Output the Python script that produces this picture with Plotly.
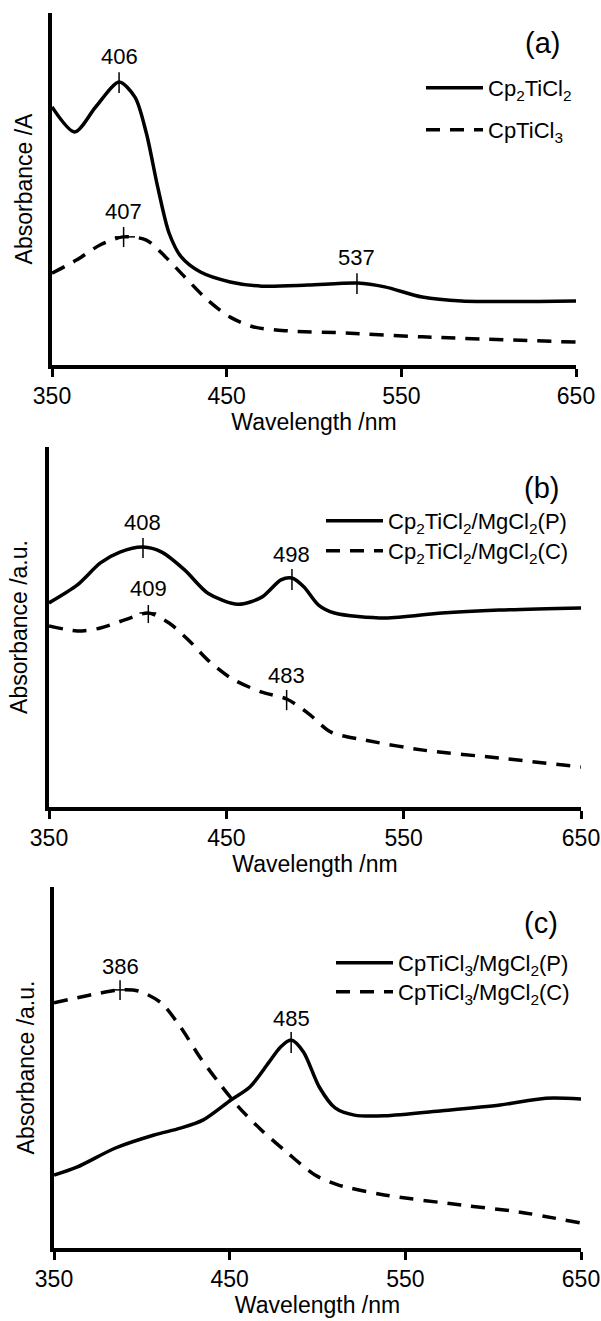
import plotly.graph_objects as go

# ---------------- data ----------------
# Panel (a)
a_wl_solid = [350, 363, 375, 388.4, 397.5, 404, 410.5, 417, 424, 435, 452, 470, 496.5, 525, 540.5, 562, 584.5, 650]
a_abs_solid = [0.733, 0.662, 0.733, 0.804, 0.761, 0.659, 0.506, 0.375, 0.307, 0.264, 0.236, 0.224, 0.227, 0.233, 0.222, 0.193, 0.182, 0.182]
a_wl_dash = [350, 364, 377.5, 390.7, 404, 415, 426, 439, 452, 465.5, 485, 518, 562, 650]
a_abs_dash = [0.261, 0.298, 0.341, 0.364, 0.355, 0.307, 0.25, 0.185, 0.136, 0.108, 0.097, 0.091, 0.080, 0.065]
a_names = ["Cp<sub>2</sub>TiCl<sub>2</sub>", "CpTiCl<sub>3</sub>"]
a_peak_x = [388.4, 391.0, 524.6]
a_peak_lo = [0.773, 0.335, 0.202]
a_peak_hi = [0.832, 0.392, 0.261]
a_peak_text = ["406", "407", "537"]
a_peak_label_y = [0.875, 0.435, 0.304]
a_cross_x = [386.0, 397.5]
a_cross_y = 0.364

# Panel (b)
b_wl_solid = [350, 366, 379, 390, 403, 413.6, 426.6, 439.6, 456.6, 470, 480.8, 487, 493.8, 502, 511, 539.5, 571.6, 604, 650]
b_abs_solid = [0.567, 0.617, 0.678, 0.708, 0.722, 0.708, 0.658, 0.594, 0.563, 0.583, 0.631, 0.636, 0.611, 0.561, 0.539, 0.525, 0.539, 0.547, 0.553]
b_wl_dash = [350, 366, 379, 394, 406, 417.7, 428.6, 439.6, 452.6, 470, 484, 496, 509, 528, 561, 604, 650]
b_abs_dash = [0.503, 0.489, 0.497, 0.522, 0.539, 0.511, 0.464, 0.408, 0.358, 0.319, 0.300, 0.261, 0.208, 0.186, 0.158, 0.136, 0.111]
b_names = ["Cp<sub>2</sub>TiCl<sub>2</sub>/MgCl<sub>2</sub>(P)", "Cp<sub>2</sub>TiCl<sub>2</sub>/MgCl<sub>2</sub>(C)"]
b_peak_x = [403.0, 487.0, 406.0, 484.0]
b_peak_lo = [0.692, 0.603, 0.511, 0.269]
b_peak_hi = [0.747, 0.661, 0.561, 0.325]
b_peak_text = ["408", "498", "409", "483"]
b_peak_label_y = [0.789, 0.700, 0.608, 0.364]
b_cross_x = [401.0, 410.5]
b_cross_y = 0.539

# Panel (c)
c_wl_solid = [350, 363, 385, 407, 422, 435, 450.7, 461.5, 472, 479, 485, 492, 501, 510, 521, 538, 571, 604, 630, 650]
c_abs_solid = [0.202, 0.224, 0.277, 0.313, 0.332, 0.355, 0.410, 0.446, 0.512, 0.557, 0.576, 0.543, 0.446, 0.388, 0.368, 0.366, 0.380, 0.396, 0.415, 0.413]
c_wl_dash = [350, 363, 376, 387.6, 398, 411, 422, 433, 444, 455, 468, 483, 498.6, 511.6, 538, 582, 614.6, 650]
c_abs_dash = [0.679, 0.693, 0.706, 0.715, 0.712, 0.679, 0.612, 0.529, 0.457, 0.391, 0.327, 0.263, 0.202, 0.175, 0.147, 0.119, 0.100, 0.069]
c_names = ["CpTiCl<sub>3</sub>/MgCl<sub>2</sub>(P)", "CpTiCl<sub>3</sub>/MgCl<sub>2</sub>(C)"]
c_peak_x = [387.6, 485.0]
c_peak_lo = [0.687, 0.540]
c_peak_hi = [0.742, 0.598]
c_peak_text = ["386", "485"]
c_peak_label_y = [0.781, 0.637]
c_cross_x = [383.0, 393.0]
c_cross_y = 0.715

x_ticks = [350, 450, 550, 650]
x_title = "Wavelength /nm"
y_titles = ["Absorbance /A", "Absorbance /a.u.", "Absorbance /a.u."]
panel_tags = ["(a)", "(b)", "(c)"]

# ---------------- layout geometry (pixels) ----------------
W, H = 601, 1321
FONT = "Liberation Sans, Arial, Helvetica, sans-serif"
LW = 3.5
DASH = "14px,10px"

panels = [
    dict(tag="", xd=(52, 576), yd=(13, 365), sol=(a_wl_solid, a_abs_solid), das=(a_wl_dash, a_abs_dash),
         names=a_names, px=a_peak_x, plo=a_peak_lo, phi=a_peak_hi, pt=a_peak_text, ply=a_peak_label_y,
         cx=a_cross_x, cy=a_cross_y, legx=421, legrows=(87, 129), tagpos=(542, 43), ytstand=10),
    dict(tag="2", xd=(49, 581), yd=(447, 807), sol=(b_wl_solid, b_abs_solid), das=(b_wl_dash, b_abs_dash),
         names=b_names, px=b_peak_x, plo=b_peak_lo, phi=b_peak_hi, pt=b_peak_text, ply=b_peak_label_y,
         cx=b_cross_x, cy=b_cross_y, legx=321, legrows=(520, 550), tagpos=(541, 488), ytstand=12),
    dict(tag="3", xd=(54, 581), yd=(887, 1248), sol=(c_wl_solid, c_abs_solid), das=(c_wl_dash, c_abs_dash),
         names=c_names, px=c_peak_x, plo=c_peak_lo, phi=c_peak_hi, pt=c_peak_text, ply=c_peak_label_y,
         cx=c_cross_x, cy=c_cross_y, legx=331, legrows=(962, 991), tagpos=(541, 923), ytstand=10),
]

LEG_TOP_OFFSET = 20  # px from legend box top to the item's line

fig = go.Figure()
annotations = []
layout = dict(
    width=W, height=H, margin=dict(l=0, r=0, t=0, b=0),
    paper_bgcolor="white", plot_bgcolor="white",
    font=dict(family=FONT, size=22, color="black"),
    template="none", showlegend=True,
)

leg_index = 0
for i, p in enumerate(panels):
    xa = "x" + p["tag"]
    ya = "y" + p["tag"]
    series = [(p["sol"], "solid"), (p["das"], DASH)]
    for j, (xy, dash) in enumerate(series):
        leg_index += 1
        legname = "legend" if leg_index == 1 else "legend" + str(leg_index)
        fig.add_trace(go.Scatter(x=xy[0], y=xy[1], mode="lines", name=p["names"][j],
                                 line=dict(color="black", width=LW, dash=dash, shape="spline", smoothing=0.8),
                                 xaxis=xa, yaxis=ya, legend=legname))
        layout[legname] = dict(x=p["legx"] / W, y=1 - (p["legrows"][j] - LEG_TOP_OFFSET) / H,
                               xanchor="left", yanchor="top", bgcolor="rgba(0,0,0,0)", borderwidth=0,
                               font=dict(size=22, family=FONT), itemwidth=57)
    # peak tick marks and labels
    for k in range(len(p["px"])):
        fig.add_trace(go.Scatter(x=[p["px"][k], p["px"][k]], y=[p["plo"][k], p["phi"][k]], mode="lines",
                                 line=dict(color="black", width=1.5), showlegend=False, hoverinfo="skip",
                                 xaxis=xa, yaxis=ya))
        annotations.append(dict(x=p["px"][k], y=p["ply"][k], xref=xa, yref=ya, text=p["pt"][k],
                                showarrow=False, font=dict(size=22, family=FONT), xanchor="center", yanchor="middle"))
    fig.add_trace(go.Scatter(x=p["cx"], y=[p["cy"], p["cy"]], mode="lines",
                             line=dict(color="black", width=1.5), showlegend=False, hoverinfo="skip",
                             xaxis=xa, yaxis=ya))
    # panel tag
    annotations.append(dict(x=p["tagpos"][0] / W, y=1 - p["tagpos"][1] / H, xref="paper", yref="paper",
                            text=panel_tags[i], showarrow=False, font=dict(size=29, family=FONT),
                            xanchor="center", yanchor="middle"))
    layout["xaxis" + p["tag"]] = dict(domain=[p["xd"][0] / W, p["xd"][1] / W], anchor=ya, range=[350, 650],
                                      tickvals=x_ticks, ticks="outside", ticklen=8, tickwidth=2.5, tickcolor="black",
                                      showline=True, linewidth=LW, linecolor="black", showgrid=False, zeroline=False,
                                      tickfont=dict(size=23, family=FONT), ticklabelstandoff=0,
                                      title=dict(text=x_title, font=dict(size=23, family=FONT), standoff=6),
                                      automargin=False)
    layout["yaxis" + p["tag"]] = dict(domain=[1 - p["yd"][1] / H, 1 - p["yd"][0] / H], anchor=xa, range=[0, 1],
                                      showticklabels=False, ticks="", showline=True, linewidth=LW, linecolor="black",
                                      showgrid=False, zeroline=False,
                                      title=dict(text=y_titles[i], font=dict(size=23, family=FONT), standoff=p["ytstand"]),
                                      automargin=False)

layout["annotations"] = annotations
fig.update_layout(**layout)
fig.write_html("out.html")
